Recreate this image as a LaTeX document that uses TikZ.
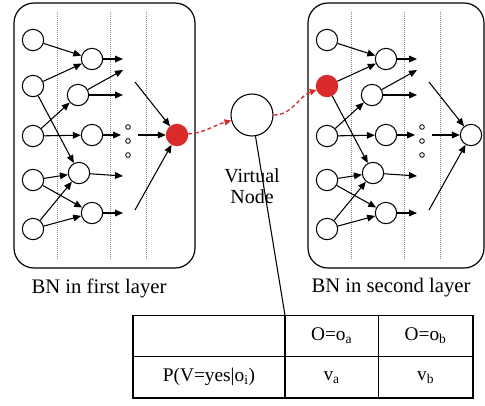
\documentclass[tikz,border=0pt]{standalone}
\usepackage{fontspec}
\setmainfont{Liberation Serif}
\usetikzlibrary{positioning,arrows.meta}
\definecolor{hot}{HTML}{D92B2B}
\definecolor{grid}{HTML}{8A8A8A}
\tikzset{
  neuron/.style={circle,draw,line width=0.8pt,minimum size=16pt,inner sep=0pt},
  vnode/.style={circle,draw,line width=0.8pt,minimum size=31.5pt,inner sep=0pt},
  dot/.style={circle,draw,line width=0.6pt,minimum size=3.5pt,inner sep=0pt},
  flow/.style={-{Triangle[length=6pt,width=5pt]},line width=0.8pt},
  redflow/.style={-{Triangle[length=5pt,width=4.5pt]},draw=hot,line width=1pt,dash pattern=on 3pt off 2pt},
  layer/.style={draw=grid,densely dotted,line width=0.5pt},
  bnbox/.style={draw,line width=0.9pt,rounded corners=15pt},
  cell/.style={draw,line width=0.8pt,outer sep=0pt,inner sep=0pt,minimum height=31pt,font=\fontsize{14.5}{16}\selectfont},
  lbl/.style={font=\fontsize{15.5}{18}\selectfont}}
\begin{document}
\begin{tikzpicture}[x=0.75pt,y=-0.75pt]
  \useasboundingbox (0,0) rectangle (485,405);
  % the two networks, same layout, different red node
  \foreach \b/\dx/\bw/\fa/\da/\fo/\do in {L/0/181/white/black/hot/hot,R/294/176/hot/hot/white/black}{
    \begin{scope}[shift={(\dx,0)}]
      \draw[bnbox] (14,3) rectangle ++(\bw,265);
      \foreach \x in {57,110,146} \draw[layer] (\x,12) -- (\x,260);
      \node[neuron] (\b-i1) at (33,40) {};
      \node[neuron,fill=\fa,draw=\da] (\b-i2) at (33,86) {};
      \node[neuron] (\b-i3) at (33,136) {};
      \node[neuron] (\b-i4) at (33,180) {};
      \node[neuron] (\b-i5) at (33,229) {};
      \node[neuron] (\b-h1) at (92,59) {};
      \node[neuron] (\b-h2) at (78,95) {};
      \node[neuron] (\b-h3) at (92,135) {};
      \node[neuron] (\b-h4) at (79,173) {};
      \node[neuron] (\b-h5) at (92,213) {};
      \node[neuron,fill=\fo,draw=\do] (\b-o) at (177,135) {};
      \node[dot] (\b-d1) at (128,127) {};
      \node[dot] (\b-d2) at (128,141) {};
      \node[dot] (\b-d3) at (128,155) {};
      \coordinate (\b-e1) at (123,59);
      \coordinate (\b-e2) at (123,70);
      \coordinate (\b-e3) at (123,95);
      \coordinate (\b-e4) at (121,135);
      \coordinate (\b-e5) at (123,176);
      \coordinate (\b-e6) at (123,213);
      \coordinate (\b-a1) at (135,82);
      \coordinate (\b-a2) at (138,135);
      \coordinate (\b-a3) at (135,210);
      \draw[flow] (\b-i1) -- (\b-h1);
      \draw[flow] (\b-i2) -- (\b-h1);
      \draw[flow] (\b-i2) -- (\b-h4);
      \draw[flow] (\b-i3) -- (\b-h2);
      \draw[flow] (\b-i3) -- (\b-h3);
      \draw[flow] (\b-i4) -- (\b-h4);
      \draw[flow] (\b-i4) -- (\b-h5);
      \draw[flow] (\b-i5) -- (\b-h4);
      \draw[flow] (\b-i5) -- (\b-h5);
      \draw[flow] (\b-h1) -- (\b-e1);
      \draw[flow] (\b-h2) -- (\b-e2);
      \draw[flow] (\b-h2) -- (\b-e3);
      \draw[flow] (\b-h3) -- (\b-e4);
      \draw[flow] (\b-h4) -- (\b-e5);
      \draw[flow] (\b-h5) -- (\b-e6);
      \draw[flow] (\b-a1) -- (\b-o);
      \draw[flow] (\b-a2) -- (\b-o);
      \draw[flow] (\b-a3) -- (\b-o);
    \end{scope}}
  \node[lbl] (capL) at (99,288) {BN in first layer};
  \node[lbl] (capR) at (391,288) {BN in second layer};
  % virtual node between the layers
  \node[vnode] (vn) at (252,115) {};
  \node[align=center,font=\fontsize{15}{16}\selectfont] (vnlab) at (252,186) {Virtual\\Node};
  \draw[redflow] (L-o) to[out=5,in=195] (vn);
  \draw[redflow] (vn) to[out=0,in=200] (R-i2);
  % its table
  \node[cell,minimum width=114pt] (c11) at (209,336) {};
  \node[cell,minimum width=70pt,right=0pt of c11] (c12) {O=o\textsubscript{a}};
  \node[cell,minimum width=71pt,right=0pt of c12] (c13) {O=o\textsubscript{b}};
  \node[cell,minimum width=114pt,below=0pt of c11] (c21) {P(V=yes|o\textsubscript{i})};
  \node[cell,minimum width=70pt,below=0pt of c12] (c22) {v\textsubscript{a}};
  \node[cell,minimum width=71pt,below=0pt of c13] (c23) {v\textsubscript{b}};
  \draw[line width=0.8pt] (vn) -- (c12.north west);
\end{tikzpicture}
\end{document}
